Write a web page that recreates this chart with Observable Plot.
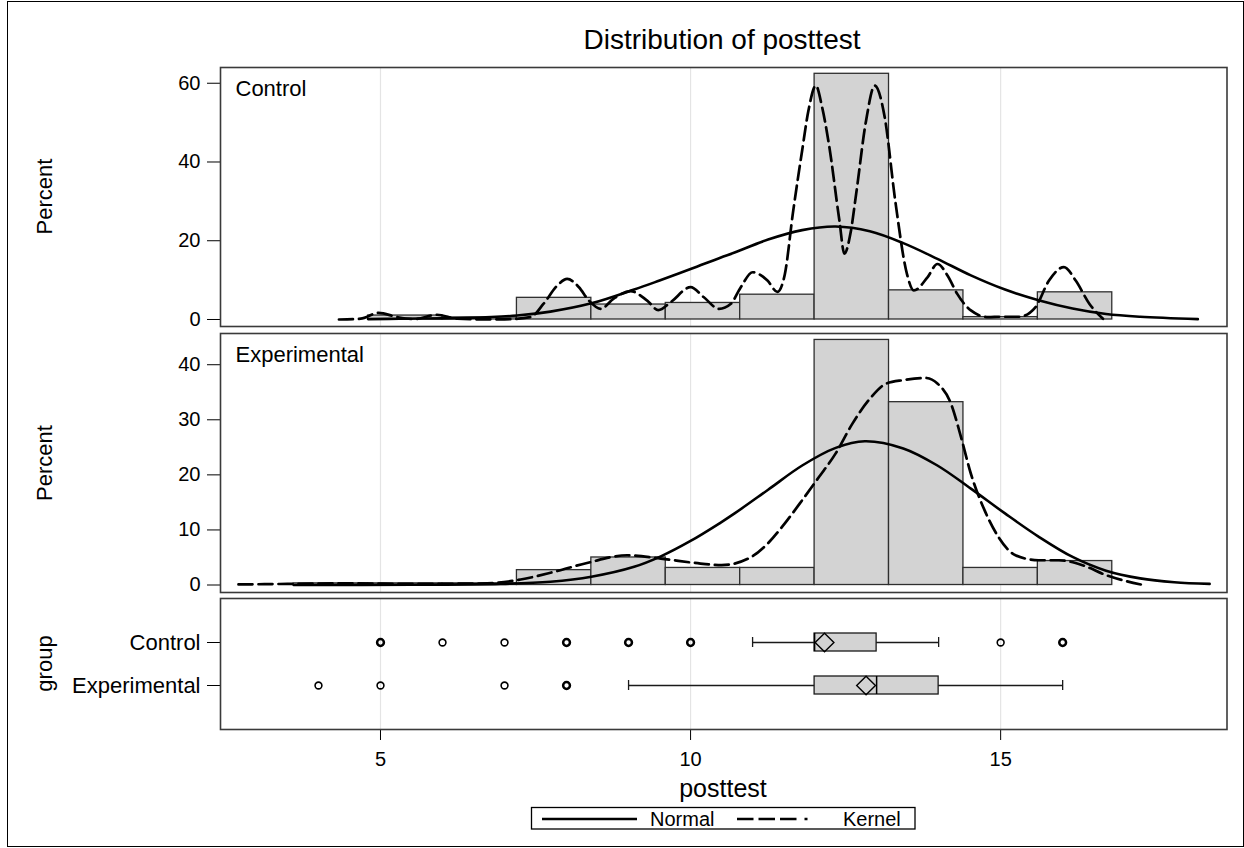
<!DOCTYPE html>
<html>
<head>
<meta charset="utf-8">
<script src="https://cdn.jsdelivr.net/npm/d3@7"></script>
<script src="https://cdn.jsdelivr.net/npm/@observablehq/plot@0.6"></script>
<style>
  body { margin: 0; background: #fff; font-family: "Liberation Sans", Arial, sans-serif; }
  #wrap { position: relative; width: 1244px; height: 848px; overflow: hidden; background: #fff; }
  #outer { position: absolute; left: 7px; top: 1px; width: 1237px; height: 846px; border: 1px solid #000; box-sizing: border-box; }
  #overlay { position: absolute; left: 0; top: 0; pointer-events: none; }
</style>
</head>
<body>
<div id="wrap"><div id="outer"></div></div>
<script>
// ---------------- data ----------------
const xDomain = [2.42, 18.65];
const gridTicks = [5, 10, 15];
const binLeft = [3.6, 4.8, 6.0, 7.2, 8.4, 9.6, 10.8, 12.0, 13.2, 14.4, 15.6];
const binWidth = 1.2;
const controlPct =      [0,   1.0, 0.5, 5.5, 3.8, 4.2, 6.3, 62.4, 7.4, 0.6, 6.9];
const experimentalPct = [0.3, 0.3, 0.3, 2.7, 5.0, 3.1, 3.1, 44.5, 33.2, 3.1, 4.35];

const controlNormalX =   [4.8, 5.3, 6.4, 7.2, 7.74, 8.4, 9.09, 9.5, 10.0, 10.48, 10.71, 11.25, 11.8, 12.34, 12.89, 13.43, 13.98, 14.52, 15.07, 15.61, 16.16, 16.7, 17.25, 18.18];
const controlNormalPct = [0.1, 0.2, 0.4, 1.0, 2.0, 4.1, 7.6, 9.9, 12.8, 15.7, 17.0, 20.3, 22.7, 23.6, 22.4, 19.4, 15.4, 11.2, 7.6, 4.9, 2.8, 1.4, 0.7, 0.1];

const controlKernelX =   [4.33, 4.68, 4.97, 5.27, 5.54, 5.91, 6.24, 6.6, 7.0, 7.42, 7.63, 7.85, 8.01, 8.20, 8.36, 8.55, 8.76, 9.03, 9.30, 9.48, 9.68, 10.0, 10.21, 10.46, 10.65, 10.81, 11.0, 11.24, 11.4, 11.52, 11.65, 11.80, 11.9, 12.02, 12.12, 12.23, 12.40, 12.48, 12.58, 12.67, 12.83, 12.97, 13.13, 13.30, 13.49, 13.60, 13.82, 13.98, 14.15, 14.30, 14.52, 14.80, 15.0, 15.3, 15.56, 15.78, 16.02, 16.21, 16.43, 16.65];
const controlKernelPct = [0.0, 0.2, 1.7, 0.6, 0.1, 1.2, 0.2, 0.05, 0.05, 0.6, 4.0, 8.6, 10.3, 8.2, 4.8, 2.7, 5.3, 7.2, 4.8, 2.4, 4.4, 8.2, 5.7, 2.7, 4.0, 8.2, 12.0, 9.9, 7.0, 11.5, 27.0, 43.0, 53.0, 59.4, 54.0, 44.6, 25.1, 16.7, 22.0, 31.9, 50.5, 59.4, 51.4, 30.2, 11.5, 7.4, 10.7, 14.1, 11.0, 6.5, 2.3, 0.6, 0.7, 0.7, 3.1, 9.9, 13.3, 9.9, 4.0, 0.2];

const experimentalNormalX =   [3.6, 5.5, 6.94, 7.74, 8.4, 9.09, 9.52, 10.0, 10.48, 10.71, 11.25, 11.8, 12.34, 12.81, 13.43, 13.98, 14.52, 15.07, 15.61, 16.16, 16.7, 17.25, 17.8, 18.37];
const experimentalNormalPct = [0.0, 0.05, 0.2, 0.6, 1.5, 3.3, 5.2, 8.0, 11.3, 13.0, 17.3, 21.7, 24.9, 26.1, 24.8, 21.7, 17.5, 13.0, 8.8, 5.1, 2.6, 1.2, 0.5, 0.2];

const experimentalKernelX =   [2.71, 3.5, 4.5, 5.5, 6.72, 7.26, 7.80, 8.33, 8.98, 9.52, 10.16, 10.5, 10.98, 11.25, 11.52, 11.80, 12.07, 12.34, 12.61, 12.89, 13.16, 13.43, 13.79, 13.98, 14.20, 14.36, 14.52, 14.74, 14.96, 15.24, 15.61, 15.94, 16.32, 16.70, 17.30];
const experimentalKernelPct = [0.1, 0.2, 0.3, 0.2, 0.3, 1.0, 2.4, 4.0, 5.4, 4.8, 3.9, 3.6, 5.1, 7.6, 11.2, 15.4, 19.6, 23.9, 29.3, 33.8, 36.6, 37.2, 37.6, 36.6, 32.9, 26.9, 20.2, 13.6, 8.8, 5.4, 4.5, 4.5, 3.6, 1.8, 0.0];

const groups = ["Control", "Experimental"];
const whiskerLow = [11, 9];
const boxQ1 = [12, 12];
const boxMedian = [12, 13];
const boxQ3 = [13, 14];
const whiskerHigh = [14, 16];
const boxMean = [12.16, 12.83];
const controlOutliers = [5, 6, 7, 8, 9, 10, 15, 16];
const controlOutlierCounts = [2, 1, 1, 2, 2, 2, 1, 2];
const experimentalOutliers = [4, 5, 7, 8];
const experimentalOutlierCounts = [1, 1, 1, 2];

const percentTicksControl = [0, 20, 40, 60];
const percentTicksExperimental = [0, 10, 20, 30, 40];
const xTicks = [5, 10, 15];

// ---------------- helpers ----------------
const FONT = '"Liberation Sans", Arial, sans-serif';
const toPts = (xs, ys) => xs.map((x, i) => ({x, y: ys[i]}));
const toBars = (pcts) => binLeft.map((x1, i) => ({x1, x2: x1 + binWidth, pct: pcts[i]})).filter(d => d.pct > 0);
const wrap = document.getElementById("wrap");
const common = {
  width: 1244,
  marginLeft: 220,
  marginRight: 17.5,
  style: {background: "transparent", overflow: "visible", fontFamily: FONT, fontSize: "20px", color: "#000"}
};
function place(el, top) {
  el.style.position = "absolute";
  el.style.left = "0px";
  el.style.top = top + "px";
  wrap.appendChild(el);
}

function histPanel(pcts, normalPts, kernelPts, yDomain, yTicks, label, top) {
  const el = Plot.plot({
    ...common,
    height: 270,
    marginTop: 5,
    marginBottom: 6,
    x: {domain: xDomain, axis: null},
    y: {domain: yDomain, ticks: yTicks, tickSize: 13, tickPadding: 7, label: null},
    marks: [
      Plot.ruleX(gridTicks, {x: d => d, stroke: "#e4e4e4", strokeWidth: 1.2}),
      Plot.rectY(toBars(pcts), {x1: "x1", x2: "x2", y1: 0, y2: "pct", fill: "#d3d3d3", stroke: "#2f2f2f", strokeWidth: 1.3}),
      Plot.line(normalPts, {x: "x", y: "y", curve: "catmull-rom", stroke: "#000", strokeWidth: 2.6}),
      Plot.line(kernelPts, {x: "x", y: "y", curve: "monotone-x", stroke: "#000", strokeWidth: 2.7, strokeDasharray: "14,6"}),
      Plot.text([label], {text: d => d, frameAnchor: "top-left", dx: 15, dy: 13, lineAnchor: "top", textAnchor: "start", fontSize: 22, fill: "#000"}),
      Plot.frame({stroke: "#3a3a3a", strokeWidth: 1.6})
    ]
  });
  place(el, top);
}

histPanel(controlPct, toPts(controlNormalX, controlNormalPct), toPts(controlKernelX, controlKernelPct),
          [-1.78, 64], percentTicksControl, "Control", 62);
histPanel(experimentalPct, toPts(experimentalNormalX, experimentalNormalPct), toPts(experimentalKernelX, experimentalKernelPct),
          [-1.36, 45.67], percentTicksExperimental, "Experimental", 328);

// ---------------- box plot panel ----------------
const boxes = groups.map((g, i) => ({group: g, lo: whiskerLow[i], q1: boxQ1[i], med: boxMedian[i], q3: boxQ3[i], hi: whiskerHigh[i], mean: boxMean[i]}));
const outliers = [
  ...controlOutliers.map((v, i) => ({group: "Control", v, n: controlOutlierCounts[i]})),
  ...experimentalOutliers.map((v, i) => ({group: "Experimental", v, n: experimentalOutlierCounts[i]}))
];
const diamond = {
  draw(ctx, size) {
    const s = Math.sqrt(size) * 0.65;
    ctx.moveTo(0, -s); ctx.lineTo(s * 1.02, 0); ctx.lineTo(0, s); ctx.lineTo(-s * 1.02, 0); ctx.closePath();
  }
};
const boxEl = Plot.plot({
  ...common,
  height: 215,
  marginTop: 5,
  marginBottom: 79,
  x: {domain: xDomain, ticks: xTicks, tickSize: 11, tickPadding: 11, label: null},
  y: {type: "band", domain: groups, paddingInner: 0.58, paddingOuter: 0.78, align: 0.5, tickSize: 13, tickPadding: 7, label: null},
  marks: [
    Plot.ruleX(gridTicks, {x: d => d, stroke: "#e4e4e4", strokeWidth: 1.2}),
    Plot.ruleY(boxes, {y: "group", x1: "lo", x2: "hi", stroke: "#1a1a1a", strokeWidth: 1.3}),
    Plot.tickX(boxes, {x: "lo", y: "group", insetTop: 4, insetBottom: 4, stroke: "#1a1a1a", strokeWidth: 1.3}),
    Plot.tickX(boxes, {x: "hi", y: "group", insetTop: 4, insetBottom: 4, stroke: "#1a1a1a", strokeWidth: 1.3}),
    Plot.barX(boxes, {x1: "q1", x2: "q3", y: "group", fill: "#d3d3d3", stroke: "#1a1a1a", strokeWidth: 1.3}),
    Plot.tickX(boxes, {x: "med", y: "group", stroke: "#000", strokeWidth: 1.5}),
    Plot.dot(boxes, {x: "mean", y: "group", symbol: diamond, r: 8, fill: "none", stroke: "#000", strokeWidth: 1.4}),
    Plot.dot(outliers, {x: "v", y: "group", r: 3.4, fill: "none", stroke: "#000", strokeWidth: d => d.n > 1 ? 2.5 : 1.6}),
    Plot.frame({stroke: "#3a3a3a", strokeWidth: 1.6})
  ]
});
boxEl.querySelectorAll("[aria-label='y-axis tick label'] text, [aria-label='y-axis'] text").forEach(t => t.setAttribute("font-size", "22"));
place(boxEl, 593);

// ---------------- titles, axis labels, legend ----------------
const ov = d3.select(wrap).append("svg").attr("id", "overlay").attr("width", 1244).attr("height", 848)
  .style("font-family", FONT);
ov.append("text").attr("x", 722).attr("y", 49).attr("text-anchor", "middle").attr("font-size", 28).text("Distribution of posttest");
[[196.5, "Percent"], [463, "Percent"], [663.5, "group"]].forEach(([cy, t]) => {
  ov.append("text").attr("transform", `translate(52,${cy}) rotate(-90)`).attr("text-anchor", "middle").attr("font-size", 22).text(t);
});
ov.append("text").attr("x", 723).attr("y", 797).attr("text-anchor", "middle").attr("font-size", 25).text("posttest");

const lg = ov.append("g");
lg.append("rect").attr("x", 531.5).attr("y", 807.5).attr("width", 383.5).attr("height", 21.5).attr("fill", "#fff").attr("stroke", "#000").attr("stroke-width", 1.3);
lg.append("line").attr("x1", 542).attr("x2", 637).attr("y1", 819).attr("y2", 819).attr("stroke", "#000").attr("stroke-width", 2.6);
lg.append("text").attr("x", 650).attr("y", 826).attr("font-size", 20).text("Normal");
lg.append("line").attr("x1", 737).attr("x2", 820).attr("y1", 819).attr("y2", 819).attr("stroke", "#000").attr("stroke-width", 2.6)
  .attr("stroke-dasharray", "16.5,5,16.5,5,16.5,8,3,20");
lg.append("text").attr("x", 843).attr("y", 826).attr("font-size", 20).text("Kernel");
</script>
</body>
</html>
